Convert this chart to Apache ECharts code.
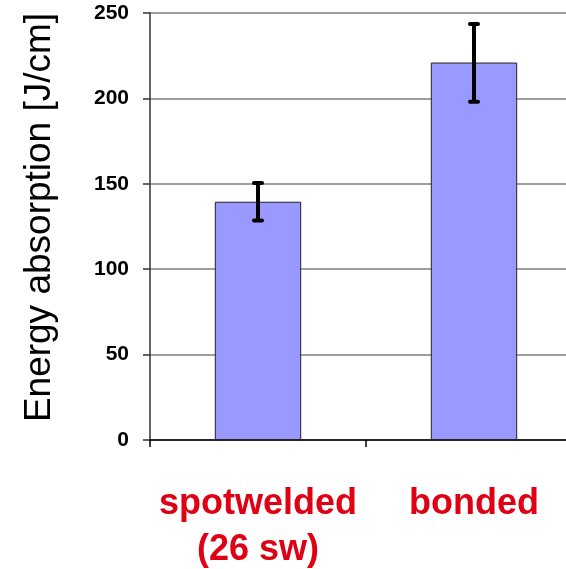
<!DOCTYPE html>
<html>
<head>
<meta charset="utf-8">
<script src="https://cdn.jsdelivr.net/npm/echarts@6/dist/echarts.min.js"></script>
<style>html,body{margin:0;padding:0;background:#fff;}#c{width:566px;height:569px;}</style>
</head>
<body>
<div id="c"></div>
<script>
const categories = ['spotwelded\n(26 sw)', 'bonded'];
const values = [139.5, 221];
const errLow = [128.5, 198];
const errHigh = [150.5, 243.5];
const yTicks = [0, 50, 100, 150, 200, 250];

const FONT = 'Liberation Sans, Arial, sans-serif';
const chart = echarts.init(document.getElementById('c'), null, {renderer: 'canvas'});
chart.setOption({
  backgroundColor: '#fff',
  animation: false,
  grid: {left: 150, top: 13, width: 432, height: 427, containLabel: false, outerBoundsMode: 'none'},
  xAxis: {
    type: 'category',
    data: categories,
    boundaryGap: true,
    axisLine: {lineStyle: {color: '#000', width: 1.5}},
    axisTick: {show: true, length: 7, lineStyle: {color: '#000', width: 1.5}},
    axisLabel: {color: '#e00014', fontFamily: FONT, fontWeight: 'bold', fontSize: 36, lineHeight: 46, margin: 41, interval: 0}
  },
  yAxis: {
    type: 'value',
    min: yTicks[0], max: yTicks[yTicks.length - 1], interval: 50,
    name: 'Energy absorption [J/cm]',
    nameLocation: 'middle',
    nameGap: 92,
    nameTextStyle: {color: '#000', fontFamily: FONT, fontSize: 37, padding: [0, 0, 0, 18]},
    axisLine: {show: true, lineStyle: {color: '#333', width: 1.5}},
    axisTick: {show: true, length: 7, lineStyle: {color: '#333', width: 1.5}},
    axisLabel: {color: '#000', fontFamily: FONT, fontWeight: 'bold', fontSize: 21, margin: 21},
    splitLine: {show: true, lineStyle: {color: '#7f7f7f', width: 1.5}}
  },
  series: [
    {
      type: 'bar',
      data: values,
      barWidth: '40%',
      itemStyle: {color: '#9999ff', borderColor: '#222', borderWidth: 1},
      z: 2
    },
    {
      type: 'custom',
      z: 5,
      data: values.map((v, i) => [i, errLow[i], errHigh[i]]),
      renderItem: function (params, api) {
        const i = api.value(0);
        const lo = api.coord([i, api.value(1)]);
        const hi = api.coord([i, api.value(2)]);
        const hw = 4;
        const st = {stroke: '#000', lineWidth: 4, lineCap: 'round'};
        return {
          type: 'group',
          children: [
            {type: 'line', shape: {x1: hi[0], y1: hi[1], x2: lo[0], y2: lo[1]}, style: {stroke: '#000', lineWidth: 4}},
            {type: 'line', shape: {x1: hi[0] - hw, y1: hi[1], x2: hi[0] + hw, y2: hi[1]}, style: st},
            {type: 'line', shape: {x1: lo[0] - hw, y1: lo[1], x2: lo[0] + hw, y2: lo[1]}, style: st}
          ]
        };
      }
    }
  ]
});
</script>
</body>
</html>
